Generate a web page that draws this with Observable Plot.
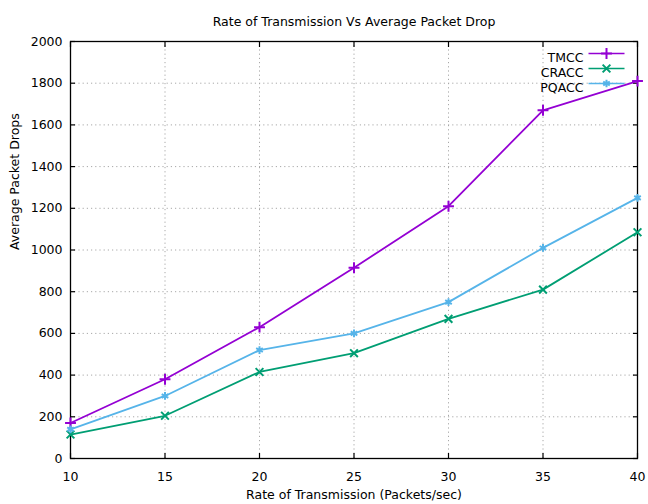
<!DOCTYPE html>
<html><head><meta charset="utf-8">
<script src="https://cdn.jsdelivr.net/npm/d3@7"></script>
<script src="https://cdn.jsdelivr.net/npm/@observablehq/plot@0.6"></script>
<style>
body{margin:0;background:#fff;}
#wrap{width:648px;height:504px;}
</style></head><body><div id="wrap"></div>
<script>
const rates = [10, 15, 20, 25, 30, 35, 40];
const tmcc  = [170, 380, 630, 915, 1210, 1670, 1810];
const cracc = [115, 205, 415, 505, 670, 810, 1085];
const pqacc = [140, 300, 520, 600, 750, 1010, 1250];
const seriesNames = ["TMCC", "CRACC", "PQACC"];
const seriesValues = [tmcc, cracc, pqacc];
const seriesColors = ["#9400d3", "#009e73", "#56b4e9"];
const seriesSymbols = ["plus", "times", "asterisk"];
const xTicks = [10, 15, 20, 25, 30, 35, 40];
const yTicks = [0, 200, 400, 600, 800, 1000, 1200, 1400, 1600, 1800, 2000];
const titleText = "Rate of Transmission Vs Average Packet Drop";
const xLabel = "Rate of Transmission (Packets/sec)";
const yLabel = "Average Packet Drops";

const rows = seriesNames.flatMap((name, i) =>
  rates.map((r, j) => ({series: name, rate: r, value: seriesValues[i][j]})));

const gridStyle = {stroke: "#a8a8a8", strokeOpacity: 1, strokeDasharray: "1.2,3", strokeWidth: 1};
const sampleLine = {draw(ctx) { ctx.moveTo(-18, 0); ctx.lineTo(18, 0); }};

const legendMarks = seriesNames.flatMap((name, i) => [
  Plot.text([name], {frameAnchor: "top-right", text: d => d, textAnchor: "end", dx: -54, dy: 12 + 15 * i, fill: "#000"}),
  Plot.dot([name], {frameAnchor: "top-right", dx: -31, dy: 12 + 15 * i, symbol: sampleLine, stroke: seriesColors[i], strokeWidth: 1.7}),
  Plot.dot([name], {frameAnchor: "top-right", dx: -31, dy: 12 + 15 * i, symbol: seriesSymbols[i], r: 3.6, stroke: seriesColors[i], strokeWidth: 2})
]);

const chart = Plot.plot({
  width: 648, height: 504,
  marginLeft: 70, marginRight: 11, marginTop: 41, marginBottom: 46,
  style: {fontFamily: "'DejaVu Sans', sans-serif", fontSize: "12.5px", color: "#000", background: "#fff"},
  x: {domain: [10, 40]},
  y: {domain: [0, 2000]},
  color: {domain: seriesNames, range: seriesColors},
  symbol: {domain: seriesNames, range: seriesSymbols},
  marks: [
    Plot.gridX(xTicks, gridStyle),
    Plot.gridY(yTicks, gridStyle),
    Plot.frame({stroke: "#000", strokeWidth: 1.3}),
    Plot.axisX(xTicks, {anchor: "bottom", tickSize: -5, tickPadding: 19, tickFormat: d => String(d), label: null, stroke: "#000", strokeWidth: 1.2}),
    Plot.axisX(xTicks, {anchor: "top", tickSize: -5, tickFormat: () => "", label: null, stroke: "#000", strokeWidth: 1.2}),
    Plot.axisY(yTicks, {anchor: "left", tickSize: -5, tickPadding: 13, tickFormat: d => String(d), label: null, stroke: "#000", strokeWidth: 1.2}),
    Plot.axisY(yTicks, {anchor: "right", tickSize: -5, tickFormat: () => "", label: null, stroke: "#000", strokeWidth: 1.2}),
    Plot.line(rows, {x: "rate", y: "value", z: "series", stroke: "series", strokeWidth: 1.8}),
    Plot.dot(rows, {x: "rate", y: "value", symbol: "series", stroke: "series", r: 3.6, strokeWidth: 2}),
    Plot.text([titleText], {frameAnchor: "top", text: d => d, dy: -24, fill: "#000"}),
    Plot.text([xLabel], {frameAnchor: "bottom", text: d => d, dy: 40, fill: "#000"}),
    Plot.text([yLabel], {frameAnchor: "left", text: d => d, rotate: -90, dx: -56, fill: "#000"}),
    ...legendMarks
  ]
});
document.getElementById("wrap").appendChild(chart);
</script>
</body></html>
